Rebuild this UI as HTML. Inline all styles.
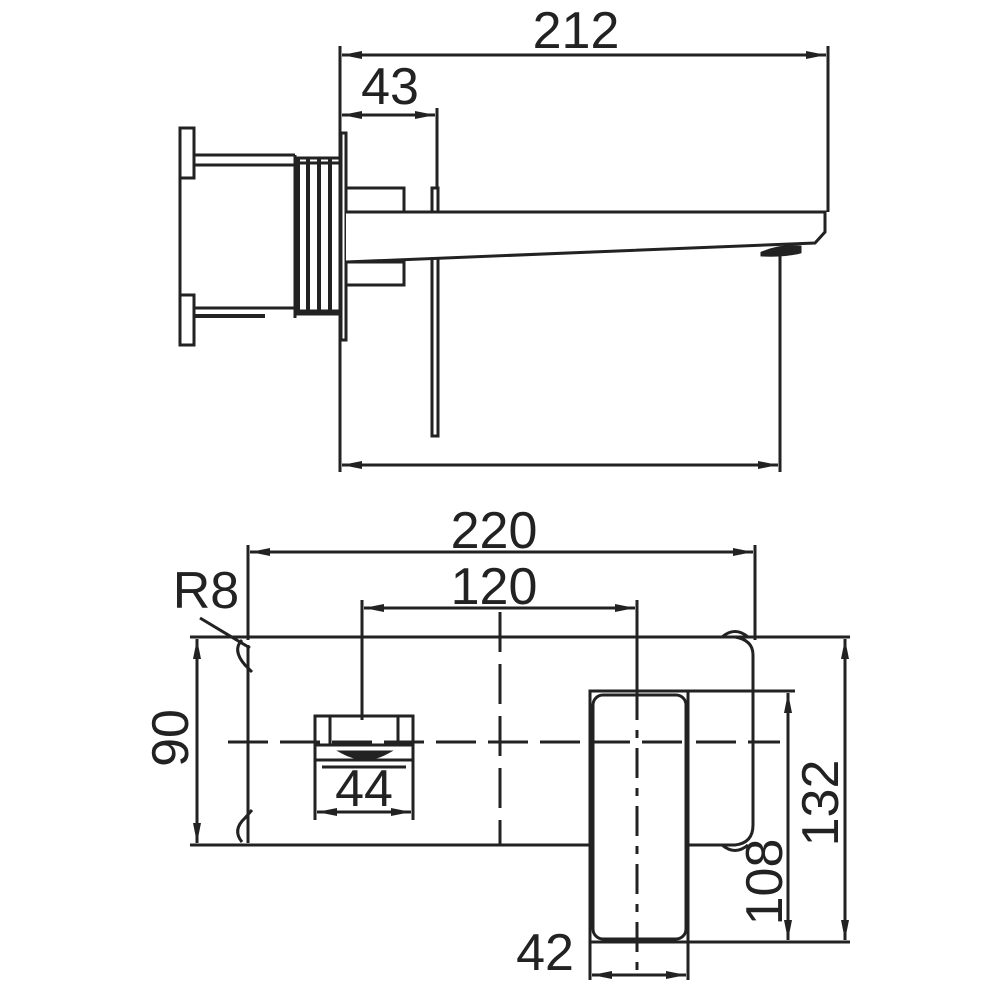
<!DOCTYPE html>
<html><head><meta charset="utf-8"><style>
html,body{margin:0;padding:0;background:#fff}
svg{display:block}
text{font-family:"Liberation Sans",sans-serif;fill:#222;font-size:52px}
</style></head><body>
<svg width="1000" height="1000" viewBox="0 0 1000 1000" xmlns="http://www.w3.org/2000/svg">
<defs>
<marker id="a" viewBox="0 0 20 8" refX="20" refY="4" markerWidth="20" markerHeight="8" markerUnits="userSpaceOnUse" orient="auto-start-reverse">
<path d="M0,0 L20,4 L0,8 Z" fill="#222"/></marker>
</defs>
<g stroke="#222" stroke-width="3" fill="none">
<line x1="340" y1="46" x2="340" y2="472"/>
<line x1="828" y1="46" x2="828" y2="212"/>
<line x1="342" y1="55" x2="826" y2="55" marker-start="url(#a)" marker-end="url(#a)"/>
<line x1="437" y1="108" x2="437" y2="188"/>
<line x1="342" y1="115" x2="435" y2="115" marker-start="url(#a)" marker-end="url(#a)"/>
<line x1="780" y1="255" x2="780" y2="472"/>
<line x1="342" y1="465" x2="778" y2="465" marker-start="url(#a)" marker-end="url(#a)"/>
<rect x="180" y="128" width="14" height="50"/>
<rect x="180" y="295" width="14" height="50"/>
<line x1="180" y1="178" x2="180" y2="295"/>
<line x1="194" y1="155" x2="295" y2="155"/>
<line x1="194" y1="165" x2="295" y2="165"/>
<line x1="194" y1="308" x2="295" y2="308"/>
<line x1="194" y1="316" x2="265" y2="316" stroke-width="4"/>
<line x1="295" y1="155" x2="295" y2="318"/>
<rect x="295" y="158" width="45" height="156"/>
<line x1="298" y1="158" x2="298" y2="314" stroke-width="4"/>
<line x1="308" y1="158" x2="308" y2="314" stroke-width="4"/>
<line x1="319" y1="158" x2="319" y2="314" stroke-width="4"/>
<line x1="330" y1="158" x2="330" y2="314" stroke-width="4"/>
<line x1="295" y1="163" x2="340" y2="163"/>
<line x1="295" y1="311" x2="340" y2="311"/>
<rect x="341" y="133" width="5" height="207"/>
<rect x="346" y="188" width="58" height="24"/>
<rect x="346" y="262" width="58" height="23"/>
<rect x="432" y="188" width="6" height="248"/>
<path d="M346,212 L825,212 L825,232 L815,243 L346,262" fill="#fff"/>
<path d="M762,253 Q780,245 800,247 L800,252 Q785,256 762,255 Z" fill="#222"/>
<line x1="248" y1="545" x2="248" y2="640"/>
<line x1="755" y1="545" x2="755" y2="640"/>
<line x1="250" y1="552" x2="753" y2="552" marker-start="url(#a)" marker-end="url(#a)"/>
<line x1="362" y1="600" x2="362" y2="720"/>
<line x1="637" y1="600" x2="637" y2="690"/>
<line x1="364" y1="608" x2="635" y2="608" marker-start="url(#a)" marker-end="url(#a)"/>
<line x1="190" y1="637" x2="850" y2="637"/>
<line x1="190" y1="845" x2="590" y2="845"/>
<path d="M248,645 L248,843"/>
<path d="M688,845 L735,845 Q753,843 753,825 L753,655 Q753,640 735,637"/>
<path d="M242,640 Q232,650 245,665 L252,672"/>
<path d="M242,842 Q232,830 245,818 L252,810"/>
<path d="M722,637 Q735,626 748,637"/>
<path d="M722,845 Q735,856 748,845"/>
<line x1="197" y1="639" x2="197" y2="843" marker-start="url(#a)" marker-end="url(#a)"/>
<line x1="200" y1="618" x2="250" y2="648"/>
<path d="M228,742 H780" stroke-dasharray="40,12"/>
<path d="M500,612 V845" stroke-dasharray="40,12"/>
<rect x="315" y="716" width="98" height="44"/>
<line x1="330" y1="716" x2="330" y2="745"/>
<line x1="398" y1="716" x2="398" y2="745"/>
<line x1="315" y1="745" x2="413" y2="745"/>
<line x1="315" y1="760" x2="315" y2="820"/>
<line x1="413" y1="760" x2="413" y2="820"/>
<line x1="322" y1="767" x2="406" y2="767"/>
<path d="M342,752 Q365,765 388,752 Z" fill="#222"/>
<line x1="317" y1="812" x2="411" y2="812" marker-start="url(#a)" marker-end="url(#a)"/>
<rect x="590" y="691" width="98" height="251" fill="#fff"/>
<rect x="593" y="695" width="93" height="244" rx="10"/>
<line x1="688" y1="691" x2="795" y2="691"/>
<line x1="688" y1="942" x2="850" y2="942"/>
<line x1="590" y1="942" x2="590" y2="980"/>
<line x1="688" y1="942" x2="688" y2="980"/>
<line x1="637" y1="690" x2="637" y2="975" stroke-dasharray="30,10,8,10"/>
<path d="M590,742 H688" stroke-dasharray="40,12"/>
<line x1="592" y1="975" x2="686" y2="975" marker-start="url(#a)" marker-end="url(#a)"/>
<line x1="788" y1="693" x2="788" y2="940" marker-start="url(#a)" marker-end="url(#a)"/>
<line x1="845" y1="639" x2="845" y2="940" marker-start="url(#a)" marker-end="url(#a)"/>
</g>
<text x="576" y="48" text-anchor="middle">212</text>
<text x="390" y="104" text-anchor="middle">43</text>
<text x="494" y="548" text-anchor="middle">220</text>
<text x="494" y="604" text-anchor="middle">120</text>
<text x="206" y="608" text-anchor="middle">R8</text>
<text x="364" y="806" text-anchor="middle">44</text>
<text x="545" y="970" text-anchor="middle">42</text>
<text transform="translate(188,738) rotate(-90)" text-anchor="middle">90</text>
<text transform="translate(782,882) rotate(-90)" text-anchor="middle">108</text>
<text transform="translate(838,803) rotate(-90)" text-anchor="middle">132</text>
</svg>
</body></html>
